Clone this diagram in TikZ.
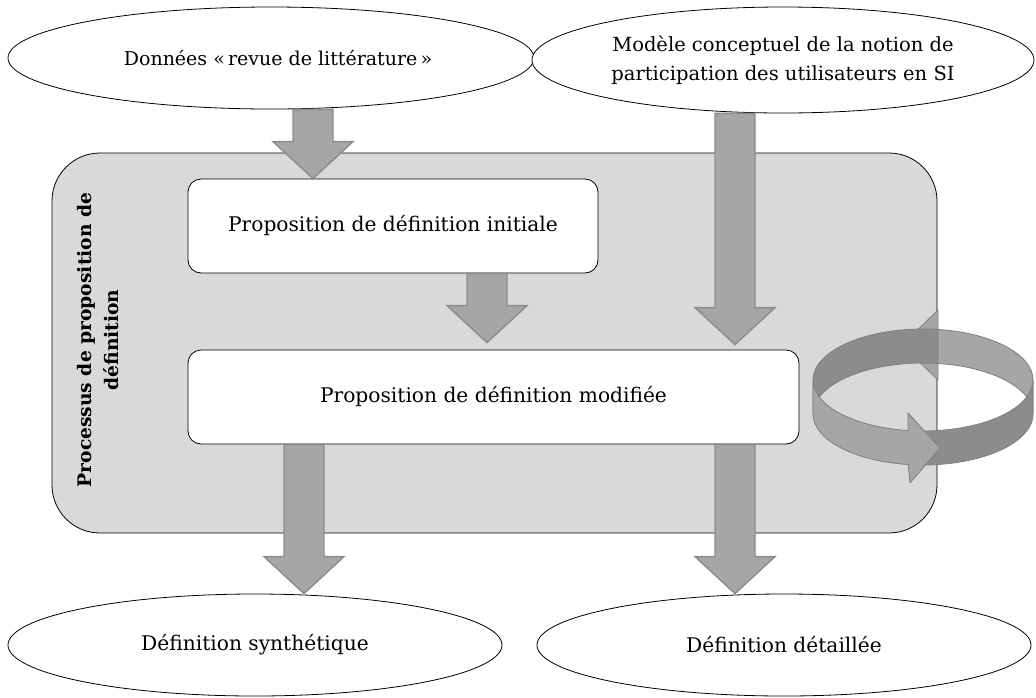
\documentclass[tikz,border=0pt]{standalone}
\usepackage{fontspec}
\setmainfont{DejaVu Serif}
\usetikzlibrary{shapes.geometric,calc}

\definecolor{boxgray}{HTML}{D9D9D9}
\definecolor{arrfill}{HTML}{A6A6A6}
\definecolor{arrline}{HTML}{8C8C8C}
\definecolor{ringdark}{HTML}{8C8C8C}
\definecolor{ringlight}{HTML}{A6A6A6}
\definecolor{ringline}{HTML}{7F7F7F}

\newcommand\blockarrow[2]{%
  \path[barrow] let \p1=#1, \p2=#2 in
   (\x1-20pt,\y1) -- (\x1+20pt,\y1) -- (\x1+20pt,\y2+37pt) -- (\x1+40pt,\y2+37pt)
   -- (\x1,\y2) -- (\x1-40pt,\y2+37pt) -- (\x1-20pt,\y2+37pt) -- cycle;}

\begin{document}
\begin{tikzpicture}[x=1pt,y=1pt,
  oval/.style={ellipse, draw=black, line width=0.8pt, fill=white, inner sep=0pt,
    font=\fontsize{20.2}{29}\selectfont, align=center},
  stepbox/.style={rectangle, rounded corners=13pt, draw=black, line width=0.8pt,
    fill=white, inner sep=0pt, font=\fontsize{20.2}{24}\selectfont},
  procbox/.style={rectangle, rounded corners=48pt, draw=black, line width=0.8pt,
    fill=boxgray, inner sep=0pt},
  proclabel/.style={rotate=90, align=center, font=\bfseries\fontsize{18.7}{27}\selectfont},
  barrow/.style={fill=arrfill, draw=arrline, line width=1.4pt, line join=miter},
  ring/.style={draw=ringline, line width=0.8pt, line join=round},
  ell/.style={x radius=110pt, y radius=51pt}
]
\useasboundingbox (0,0) rectangle (1036,-697);

% process container
\node[procbox, minimum width=885, minimum height=380] (proc) at (494.5,-343) {};
\node[proclabel] (lbl) at (98,-340) {Processus de proposition de\\définition};

% inputs and outputs
\node[oval, minimum width=526, minimum height=102, font=\fontsize{19}{29}\selectfont] (lit) at (271,-58) {\hspace*{14pt}Données «\,revue de littérature\,»};
\node[oval, minimum width=502, minimum height=106, font=\fontsize{19.5}{29}\selectfont] (mod) at (783,-60) {Modèle conceptuel de la notion de\\participation des utilisateurs en SI};
\node[oval, minimum width=494, minimum height=102] (syn) at (255,-645) {Définition synthétique};
\node[oval, minimum width=494, minimum height=102] (det) at (784,-645) {Définition détaillée};

% steps
\node[stepbox, minimum width=410, minimum height=94] (ini) at (393,-226) {Proposition de définition initiale};
\node[stepbox, minimum width=611, minimum height=94] (modif) at (493.5,-397) {Proposition de définition modifiée};

% arrow axes
\coordinate (xa) at (313,0);
\coordinate (xb) at (487,0);
\coordinate (xc) at (735,0);
\coordinate (xd) at (304,0);
\coordinate (xe) at (735,0);

\blockarrow{(lit.south -| xa)}{(ini.north -| xa)}
\blockarrow{(ini.south -| xb)}{($(modif.north -| xb)+(0,7)$)}
\blockarrow{(mod.south -| xc)}{($(modif.north -| xc)+(0,5)$)}
\blockarrow{(modif.south -| xd)}{(syn.north -| xd)}
\blockarrow{(modif.south -| xe)}{(det.north -| xe)}

% circular 3D arrow
\filldraw[ring, fill=ringlight] (938,-310) -- (938,-380) -- (902,-345) -- cycle;
\filldraw[ring, fill=ringdark] (813,-380) arc[start angle=180, end angle=82.2, ell]
  -- ++(0,-34) arc[start angle=82.2, end angle=180, ell] -- cycle;
\filldraw[ring, fill=ringlight] (1033,-380) arc[start angle=0, end angle=82.2, ell]
  -- ++(0,-34) arc[start angle=82.2, end angle=0, ell] -- cycle;
\filldraw[ring, fill=ringdark] (908.1,-430.5) arc[start angle=262.2, end angle=360, ell]
  -- ++(0,-34) arc[start angle=360, end angle=262.2, ell] -- cycle;
\filldraw[ring, fill=ringlight] (813,-380) arc[start angle=180, end angle=262.2, ell]
  -- (908,-413) -- (940,-448) -- (910,-483) -- (908.1,-464.5)
  arc[start angle=262.2, end angle=180, ell] -- cycle;
\end{tikzpicture}
\end{document}
